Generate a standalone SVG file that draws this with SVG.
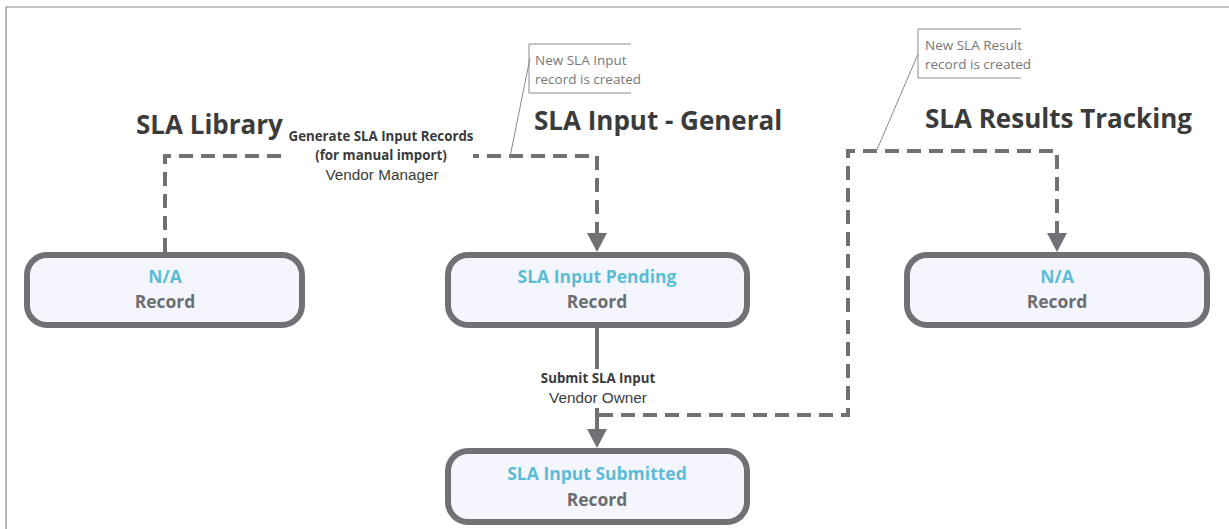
<svg xmlns="http://www.w3.org/2000/svg" width="1229" height="529" viewBox="0 0 1229 529">
<style>
.frame{fill:none;stroke:#8a8a8a;stroke-width:1.2}
.node{fill:#f5f6fd;stroke:#717175;stroke-width:6}
.title{font-family:"Open Sans","Liberation Sans",sans-serif;font-weight:bold;font-size:17.5px;fill:#5bbcd6;text-anchor:middle}
.sub{font-family:"Open Sans","Liberation Sans",sans-serif;font-weight:bold;font-size:17.5px;fill:#6d6e71;text-anchor:middle}
.head{font-family:"Open Sans","Liberation Sans",sans-serif;font-weight:bold;font-size:26px;fill:#3b3b3b}
.dash{fill:none;stroke:#717175;stroke-width:4;stroke-dasharray:14 8}
.solid{fill:none;stroke:#717175;stroke-width:4}
.arrow{fill:#717175}
.lblb{font-family:"Open Sans","Liberation Sans",sans-serif;font-weight:bold;font-size:13.3px;fill:#3b3b3b;text-anchor:middle}
.lbl{font-family:"Liberation Sans",Arial,sans-serif;font-size:15.3px;fill:#3b3b3b;text-anchor:middle}
.call{fill:none;stroke:#8a8a8a;stroke-width:1}
.calltxt{font-family:"Open Sans","Liberation Sans",sans-serif;font-size:13.5px;fill:#777777}
</style>
<rect width="1229" height="529" fill="#ffffff"/>
<path class="frame" d="M6,529 L6,7 L1229,7"/>

<g id="headers">
<text class="head" x="136" y="134">SLA Library</text>
<text class="head" x="534" y="130">SLA Input - General</text>
<text class="head" x="925" y="128">SLA Results Tracking</text>
</g>

<g id="connectors">
<path class="dash" d="M165,252 L165,156 L597,156 L597,234"/>
<polygon class="arrow" points="587,233 607,233 597,252"/>
<path class="solid" d="M597,328 L597,432"/>
<polygon class="arrow" points="587,429 607,429 597,448"/>
<path class="dash" d="M599,415 L848,415 L848,151 L1057,151 L1057,234"/>
<polygon class="arrow" points="1047,233 1067,233 1057,252"/>
<rect x="287" y="126" width="186" height="60" fill="#ffffff"/>
<text class="lblb" x="381" y="141">Generate SLA Input Records</text>
<text class="lblb" x="381" y="160">(for manual import)</text>
<text class="lbl" x="382" y="180">Vendor Manager</text>
<rect x="538" y="369" width="120" height="39" fill="#ffffff"/>
<text class="lblb" x="598" y="383">Submit SLA Input</text>
<text class="lbl" x="598" y="403">Vendor Owner</text>
</g>

<g id="callout-input">
<path class="call" d="M631,44 L529,44 L529,93 L631,93"/>
<path class="call" d="M530,58 L510,157"/>
<text class="calltxt" x="535" y="65">New SLA Input</text>
<text class="calltxt" x="535" y="84">record is created</text>
</g>
<g id="callout-result">
<path class="call" d="M1021,29 L918,29 L918,78 L1021,78"/>
<path class="call" d="M918,54 L876,152"/>
<text class="calltxt" x="925" y="50">New SLA Result</text>
<text class="calltxt" x="925" y="69">record is created</text>
</g>

<g id="node-library">
<rect class="node" x="27" y="255" width="275" height="70" rx="20"/>
<text class="title" x="165" y="283">N/A</text>
<text class="sub" x="165" y="308">Record</text>
</g>
<g id="node-pending">
<rect class="node" x="448" y="255" width="299" height="70" rx="20"/>
<text class="title" x="597" y="283">SLA Input Pending</text>
<text class="sub" x="597" y="308">Record</text>
</g>
<g id="node-results">
<rect class="node" x="907" y="255" width="300" height="70" rx="20"/>
<text class="title" x="1057" y="283">N/A</text>
<text class="sub" x="1057" y="308">Record</text>
</g>
<g id="node-submitted">
<rect class="node" x="448" y="451" width="299" height="71" rx="20"/>
<text class="title" x="597" y="480">SLA Input Submitted</text>
<text class="sub" x="597" y="506">Record</text>
</g>
</svg>
